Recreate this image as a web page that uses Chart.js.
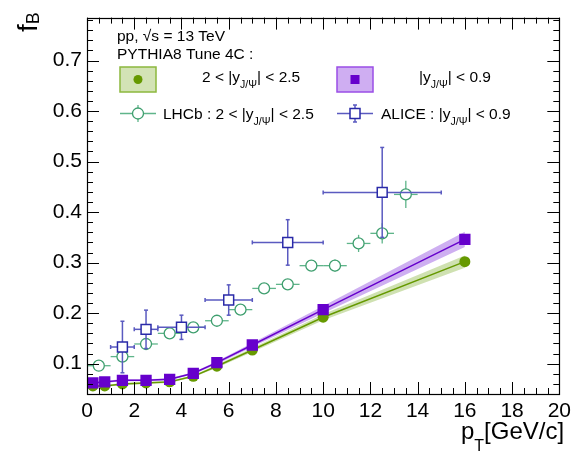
<!DOCTYPE html>
<html>
<head>
<meta charset="utf-8">
<script src="https://cdn.jsdelivr.net/npm/chart.js@4/dist/chart.umd.min.js"></script>
<style>
  body { margin: 0; background: #fff; }
  #wrap { width: 576px; height: 457px; }
</style>
</head>
<body>
<div id="wrap"><canvas id="c" width="576" height="457"></canvas></div>
<script>
// PYTHIA8 Tune 4C
const pyX = [0.25, 0.75, 1.5, 2.5, 3.5, 4.5, 5.5, 7, 10, 16]
const pyFwd = [0.056, 0.056, 0.060, 0.062, 0.064, 0.075, 0.095, 0.127, 0.192, 0.302]   // 2<|y|<2.5
const pyFwdErr = [0.002, 0.002, 0.002, 0.002, 0.002, 0.002, 0.003, 0.004, 0.006, 0.012]
const pyMid = [0.062, 0.064, 0.067, 0.067, 0.069, 0.081, 0.102, 0.137, 0.207, 0.346]   // |y|<0.9
const pyMidErr = [0.002, 0.002, 0.002, 0.002, 0.002, 0.002, 0.003, 0.004, 0.007, 0.015]

// LHCb
const lhcbX = [0.5, 1.5, 2.5, 3.5, 4.5, 5.5, 6.5, 7.5, 8.5, 9.5, 10.5, 11.5, 12.5, 13.5]
const lhcbXErr = 0.5
const lhcbY = [0.096, 0.114, 0.139, 0.160, 0.172, 0.185, 0.207, 0.249, 0.257, 0.294, 0.294, 0.338, 0.358, 0.435]
const lhcbYErr = [0.004, 0.006, 0.006, 0.006, 0.006, 0.006, 0.006, 0.006, 0.007, 0.007, 0.012, 0.017, 0.02, 0.027]

// ALICE
const aliceX = [1.5, 2.5, 4, 6, 8.5, 12.5]
const aliceXLo = [1, 2, 3, 5, 7, 10]
const aliceXHi = [2, 3, 5, 7, 10, 15]
const aliceY = [0.133, 0.168, 0.172, 0.226, 0.340, 0.439]
const aliceYErr = [0.051, 0.038, 0.024, 0.030, 0.045, 0.089]

const xTicks = [0, 2, 4, 6, 8, 10, 12, 14, 16, 18, 20]
const yTicks = [0.1, 0.2, 0.3, 0.4, 0.5, 0.6, 0.7]

const FONT = "'Liberation Sans', Arial, Helvetica, sans-serif"
const GREEN = '#669900'
const PURPLE = '#6600cc'
const LHCB = '#3f9f6f'
const ALICE = '#2a2aa8'
const ALICE_BAR = '#5a5ac0'

const pts = (xs, ys) => xs.map((x, i) => ({ x: x, y: ys[i] }))

// dataset index 0 is drawn on top
const datasets = [
    { label: 'ALICE', data: pts(aliceX, aliceY), showLine: false, pointStyle: 'rect', pointRadius: 7,
      backgroundColor: '#fff', borderColor: ALICE, borderWidth: 1.5 },
    { label: 'LHCb', data: pts(lhcbX, lhcbY), showLine: false, pointStyle: 'circle', pointRadius: 5.5,
      backgroundColor: '#fff', borderColor: LHCB, borderWidth: 1.3 },
    { label: 'mid', data: pts(pyX, pyMid), showLine: true, borderColor: PURPLE, borderWidth: 1.5,
      pointStyle: 'rect', pointRadius: 8, pointBackgroundColor: PURPLE, pointBorderColor: PURPLE, pointBorderWidth: 0 },
    { label: 'fwd', data: pts(pyX, pyFwd), showLine: true, borderColor: GREEN, borderWidth: 1.5,
      pointStyle: 'circle', pointRadius: 5.5, pointBackgroundColor: GREEN, pointBorderColor: GREEN, pointBorderWidth: 0 },
    { label: 'midHi', data: pts(pyX, pyMid.map((v, i) => v + pyMidErr[i])), showLine: true, pointRadius: 0,
      borderWidth: 0, borderColor: 'rgba(0,0,0,0)', backgroundColor: 'rgba(165,110,230,0.55)', fill: '+1' },
    { label: 'midLo', data: pts(pyX, pyMid.map((v, i) => v - pyMidErr[i])), showLine: true, pointRadius: 0,
      borderWidth: 0, borderColor: 'rgba(0,0,0,0)' },
    { label: 'fwdHi', data: pts(pyX, pyFwd.map((v, i) => v + pyFwdErr[i])), showLine: true, pointRadius: 0,
      borderWidth: 0, borderColor: 'rgba(0,0,0,0)', backgroundColor: 'rgba(160,195,100,0.5)', fill: '+1' },
    { label: 'fwdLo', data: pts(pyX, pyFwd.map((v, i) => v - pyFwdErr[i])), showLine: true, pointRadius: 0,
      borderWidth: 0, borderColor: 'rgba(0,0,0,0)' },
]

function line(ctx, x1, y1, x2, y2) {
    ctx.beginPath(); ctx.moveTo(x1, y1); ctx.lineTo(x2, y2); ctx.stroke()
}

// error bars, drawn right before their own markers
const errorBars = {
    id: 'errorBars',
    beforeDatasetDraw(chart, args) {
        const { ctx, scales: { x, y } } = chart
        const label = chart.data.datasets[args.index].label
        ctx.save()
        if (label === 'LHCb') {
            ctx.strokeStyle = '#5fb58a'; ctx.lineWidth = 1.3
            lhcbX.forEach((v, i) => {
                const px = x.getPixelForValue(v), py = y.getPixelForValue(lhcbY[i])
                line(ctx, x.getPixelForValue(v - lhcbXErr), py, x.getPixelForValue(v + lhcbXErr), py)
                line(ctx, px, y.getPixelForValue(lhcbY[i] - lhcbYErr[i]), px, y.getPixelForValue(lhcbY[i] + lhcbYErr[i]))
            })
        }
        if (label === 'ALICE') {
            ctx.strokeStyle = ALICE_BAR; ctx.lineWidth = 1.5
            aliceX.forEach((v, i) => {
                const px = x.getPixelForValue(v), py = y.getPixelForValue(aliceY[i])
                const x1 = x.getPixelForValue(aliceXLo[i]), x2 = x.getPixelForValue(aliceXHi[i])
                const y1 = y.getPixelForValue(aliceY[i] - aliceYErr[i]), y2 = y.getPixelForValue(aliceY[i] + aliceYErr[i])
                line(ctx, x1, py, x2, py)
                line(ctx, px, y1, px, y2)
                line(ctx, x1, py - 2, x1, py + 2); line(ctx, x2, py - 2, x2, py + 2)
                line(ctx, px - 2, y1, px + 2, y1); line(ctx, px - 2, y2, px + 2, y2)
            })
        }
        ctx.restore()
    }
}

// ROOT style frame with inward ticks on all four sides
const frame = {
    id: 'frame',
    afterDatasetsDraw(chart) {
        const { ctx, chartArea: a, scales: { x, y } } = chart
        ctx.save()
        ctx.strokeStyle = '#000'; ctx.lineWidth = 1
        for (let v = 0; v <= 20.001; v += 0.5) {
            const px = Math.round(x.getPixelForValue(v)) + 0.5
            const len = Math.abs(v % 2) < 1e-6 ? 12 : 6
            line(ctx, px, a.bottom, px, a.bottom - len)
            line(ctx, px, a.top, px, a.top + len)
        }
        for (let k = 2; k <= 39; k++) {
            const v = k * 0.02
            if (v < y.min - 1e-9 || v > y.max + 1e-9) continue
            const py = Math.round(y.getPixelForValue(v)) + 0.5
            const len = k % 5 === 0 ? 12 : 6
            line(ctx, a.left, py, a.left + len, py)
            line(ctx, a.right, py, a.right - len, py)
        }
        ctx.lineWidth = 1.2
        ctx.strokeRect(Math.round(a.left) + 0.5, Math.round(a.top) + 0.5, Math.round(a.right - a.left), Math.round(a.bottom - a.top))
        ctx.restore()
    }
}

function rich(ctx, parts, x, y) {
    let cx = x
    parts.forEach(p => {
        ctx.font = p.size + 'px ' + FONT
        ctx.fillText(p.t, cx, y + (p.dy || 0))
        cx += ctx.measureText(p.t).width + (p.gap || 0)
    })
}
const yJpsi = (pre, post) => [
    { t: pre + 'y', size: 15.5 },
    { t: 'J/\u03a8', size: 10.5, dy: 6 },
    { t: post, size: 15.5 },
]

const texts = {
    id: 'texts',
    afterDraw(chart) {
        const ctx = chart.ctx
        ctx.save()
        ctx.fillStyle = '#000'
        ctx.textBaseline = 'alphabetic'
        ctx.textAlign = 'left'

        // axis titles
        rich(ctx, [{ t: 'p', size: 24 }, { t: 'T', size: 16, dy: 12 }, { t: '[GeV/c]', size: 24 }], 461, 439)
        ctx.save()
        ctx.translate(37, 32)
        ctx.rotate(-Math.PI / 2)
        rich(ctx, [{ t: 'f', size: 28 }, { t: 'B', size: 18, dy: 2 }], 0, 0)
        ctx.restore()

        // header
        rich(ctx, [{ t: 'pp, \u221as = 13 TeV', size: 15.5 }], 117, 41)
        rich(ctx, [{ t: 'PYTHIA8 Tune 4C :', size: 15.5 }], 117, 59)

        // PYTHIA entries
        ctx.fillStyle = '#d3e3b5'; ctx.fillRect(120, 67, 36, 25)
        ctx.strokeStyle = '#8cb83e'; ctx.lineWidth = 1.5; ctx.strokeRect(120, 67, 36, 25)
        ctx.fillStyle = GREEN; ctx.beginPath(); ctx.arc(138, 79.5, 4.5, 0, Math.PI * 2); ctx.fill()
        ctx.fillStyle = '#cfaef2'; ctx.fillRect(337, 67, 36, 25)
        ctx.strokeStyle = '#9a4ee6'; ctx.strokeRect(337, 67, 36, 25)
        ctx.fillStyle = PURPLE; ctx.fillRect(350.5, 75, 9, 9)

        ctx.fillStyle = '#000'
        rich(ctx, yJpsi('2 < |', '| < 2.5'), 202, 82)
        rich(ctx, yJpsi('|', '| < 0.9'), 419, 82)

        // data entries
        ctx.strokeStyle = '#5fb58a'; ctx.lineWidth = 1.3
        line(ctx, 120, 113.5, 156, 113.5); line(ctx, 138, 105, 138, 122)
        ctx.fillStyle = '#fff'; ctx.strokeStyle = LHCB
        ctx.beginPath(); ctx.arc(138, 113.5, 5.5, 0, Math.PI * 2); ctx.fill(); ctx.stroke()

        ctx.strokeStyle = ALICE_BAR; ctx.lineWidth = 1.5
        line(ctx, 337, 113.5, 373, 113.5); line(ctx, 355, 105, 355, 122)
        line(ctx, 353, 105, 357, 105); line(ctx, 353, 122, 357, 122)
        ctx.fillStyle = '#fff'; ctx.strokeStyle = ALICE
        ctx.fillRect(350, 108.5, 10, 10); ctx.strokeRect(350, 108.5, 10, 10)

        ctx.fillStyle = '#000'
        rich(ctx, yJpsi('LHCb : 2 < |', '| < 2.5'), 163, 119)
        rich(ctx, yJpsi('ALICE : |', '| < 0.9'), 381, 119)
        ctx.restore()
    }
}

new Chart(document.getElementById('c'), {
    type: 'scatter',
    data: { datasets },
    options: {
        responsive: false,
        animation: false,
        layout: { padding: { top: 8, right: 13, left: 0, bottom: 0 } },
        plugins: { legend: { display: false }, tooltip: { enabled: false }, title: { display: false } },
        scales: {
            x: {
                type: 'linear', min: 0, max: 20,
                afterBuildTicks: s => { s.ticks = xTicks.map(v => ({ value: v })) },
                afterFit: s => { s.height = 63 },
                grid: { display: false, drawTicks: false },
                border: { display: false },
                ticks: { color: '#000', padding: 5, maxRotation: 0, autoSkip: false,
                         font: { family: FONT, size: 21 } }
            },
            y: {
                type: 'linear', min: 0.04, max: 0.785,
                afterBuildTicks: s => { s.ticks = yTicks.map(v => ({ value: v })) },
                afterFit: s => { s.width = 87 },
                grid: { display: false, drawTicks: false },
                border: { display: false },
                ticks: { color: '#000', padding: 5, autoSkip: false,
                         font: { family: FONT, size: 21 },
                         callback: v => v.toFixed(1) }
            }
        }
    },
    plugins: [errorBars, frame, texts]
})
</script>
</body>
</html>
